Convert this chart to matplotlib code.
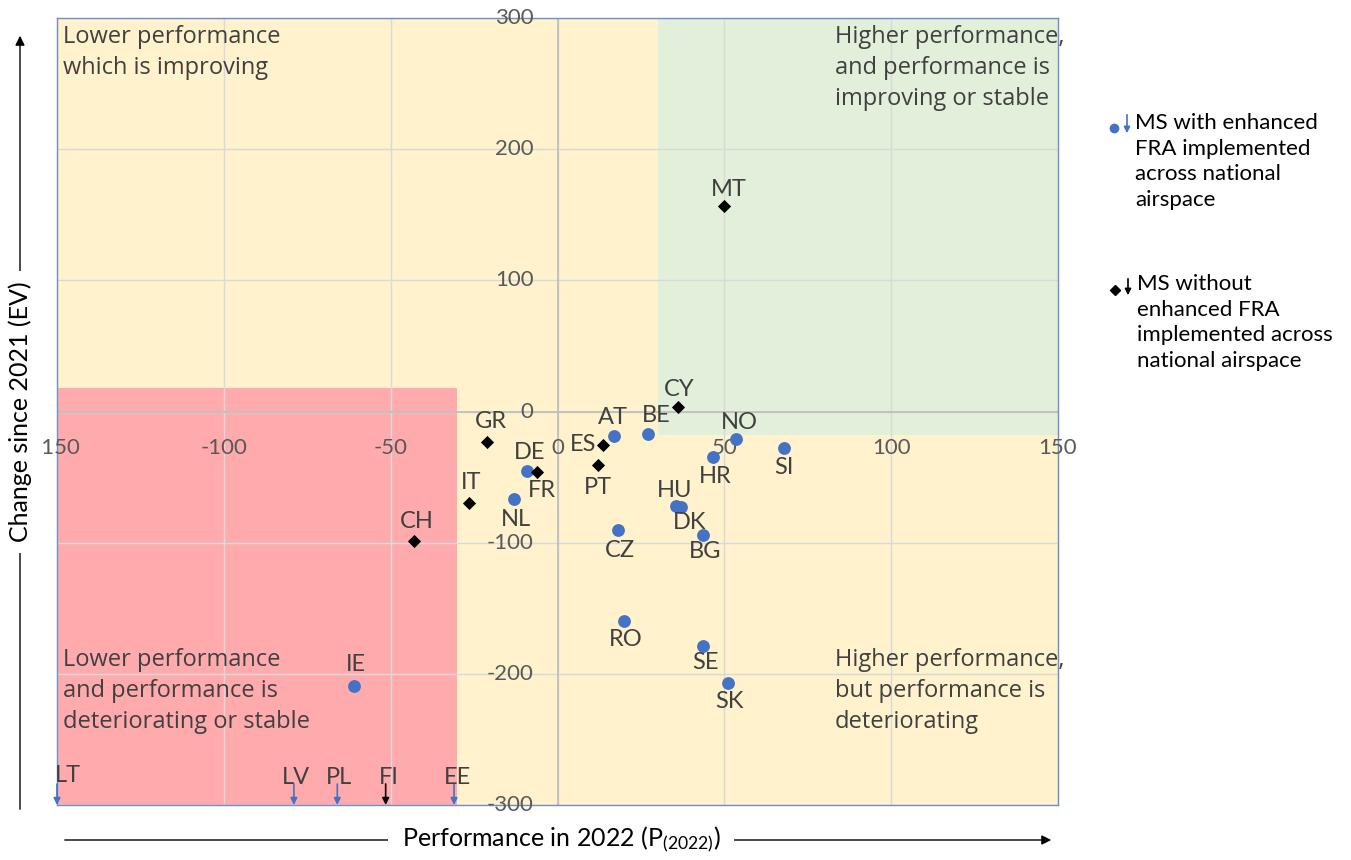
import matplotlib.pyplot as plt
from matplotlib.patches import Rectangle, FancyArrowPatch
from matplotlib.lines import Line2D

plt.rcParams['font.family'] = ['Lato', 'DejaVu Sans']
plt.rcParams['mathtext.default'] = 'regular'

# member states with enhanced FRA (blue circles)
blue_codes = ["AT", "BE", "NO", "SI", "HR", "DE", "NL", "HU", "DK", "CZ", "BG", "RO", "SE", "SK", "IE"]
blue_x = [17, 27, 53.5, 68, 46.5, -9, -13, 35.5, 37, 18, 43.5, 20, 43.5, 51, -61]
blue_y = [-19, -17, -21, -28, -35, -45, -67, -72, -73, -90, -94, -160, -179, -207, -209]

# member states without enhanced FRA (black diamonds)
black_codes = ["MT", "CY", "GR", "ES", "FR", "PT", "IT", "CH"]
black_x = [50, 36, -21, 13.5, -6, 12, -26.5, -43]
black_y = [157, 3.5, -23, -25.5, -46, -41, -70, -99]

# off-scale (change below -300), shown as arrows on the bottom edge
off_blue_codes = ["LT", "LV", "PL", "EE"]
off_blue_x = [-150, -79, -66, -31]
off_black_codes = ["FI"]
off_black_x = [-51.5]

# quadrant thresholds
x_low, x_high = -30, 30
y_low, y_high = -18, 18

# label offsets in pixels (dx, dy)
label_off = {
    "MT": (4, 16), "CY": (2, 17), "AT": (-1, 19), "BE": (9, 18), "NO": (3, 17),
    "SI": (0, -19), "HR": (3, -19), "ES": (-19, 0), "PT": (0, -22), "GR": (4, 20),
    "DE": (2, 18), "FR": (4, -19), "IT": (2, 21), "NL": (2, -20), "CH": (3, 20),
    "HU": (-1, 15), "DK": (9, -15), "CZ": (2, -21), "BG": (2, -17), "RO": (2, -18),
    "SE": (3, -16), "SK": (2, -18), "IE": (2, 21),
    "LT": (11, 30), "LV": (2, 27), "PL": (2, 28), "FI": (3, 28), "EE": (3, 28),
}

BLUE = "#4472C4"
LABEL = "#404040"
W, H = 1351, 860


def px(x, y):
    return (x / W, 1 - y / H)


fig = plt.figure(figsize=(13.51, 8.6), dpi=100)
ax = fig.add_axes([57 / W, 55 / H, 1001 / W, 787 / H])
ax.set_xlim(-150, 150)
ax.set_ylim(-300, 300)
ax.set_facecolor("#FFF2CC")

ax.add_patch(Rectangle((-150, -300), x_low + 150, y_high + 300,
                       facecolor="#FFABAE", edgecolor="none", zorder=0.2))
ax.add_patch(Rectangle((x_high, y_low), 150 - x_high, 300 - y_low,
                       facecolor="#E2EFDA", edgecolor="none", zorder=0.2))

ax.set_xticks(range(-150, 151, 50))
ax.set_yticks(range(-300, 301, 100))
ax.tick_params(length=0, labelbottom=False, labelleft=False)
ax.grid(color="#D9D9D9", lw=1)
ax.set_axisbelow(True)
ax.axhline(0, color="#BFBFBF", lw=1.3, zorder=0.6)
ax.axvline(0, color="#BFBFBF", lw=1.3, zorder=0.6)
for s in ax.spines.values():
    s.set_color("#6F8FC9")
    s.set_linewidth(1)

# tick labels drawn next to the crossing axes
for v in ax.get_xticks():
    ax.annotate(f"{int(v)}", (v, 0), xytext=(0, -36), textcoords="offset pixels",
                ha="center", va="center", fontsize=16, color="#595959",
                annotation_clip=False)
for v in ax.get_yticks():
    ax.annotate(f"{int(v)}", (0, v), xytext=(-24, 0), textcoords="offset pixels",
                ha="right", va="center", fontsize=16, color="#595959",
                annotation_clip=False)

# points
ax.scatter(blue_x, blue_y, s=85, color=BLUE, zorder=3, linewidths=0)
ax.scatter(black_x, black_y, s=45, marker="D", color="black", zorder=3, linewidths=0)

for code, x, y in zip(blue_codes + black_codes, blue_x + black_x, blue_y + black_y):
    ax.annotate(code, (x, y), xytext=label_off[code], textcoords="offset pixels",
                ha="center", va="center", fontsize=17, color=LABEL, zorder=4)

for codes, xs, col in [(off_blue_codes, off_blue_x, BLUE), (off_black_codes, off_black_x, "black")]:
    for code, x in zip(codes, xs):
        ax.annotate("", xy=(x, -300), xycoords="data",
                    xytext=(0, 21), textcoords="offset pixels",
                    arrowprops=dict(arrowstyle="-|>", color=col, lw=1.2, mutation_scale=10,
                                    shrinkA=0, shrinkB=0),
                    annotation_clip=False, zorder=4)
        ax.annotate(code, (x, -300), xytext=label_off[code], textcoords="offset pixels",
                    ha="center", va="center", fontsize=17, color=LABEL, zorder=4,
                    annotation_clip=False)

# quadrant captions
qfont = dict(fontsize=17, color=LABEL, family=["Open Sans", "DejaVu Sans"],
             linespacing=1.4, va="top", ha="left", zorder=5)
fig.text(*px(63, 25), "Lower performance\nwhich is improving", **qfont)
fig.text(*px(835, 25), "Higher performance,\nand performance is\nimproving or stable", **qfont)
fig.text(*px(63, 648), "Lower performance\nand performance is\ndeteriorating or stable", **qfont)
fig.text(*px(835, 648), "Higher performance,\nbut performance is\ndeteriorating", **qfont)

# axis titles with long arrows
fig.add_artist(FancyArrowPatch(px(20, 812), px(20, 33), transform=fig.transFigure,
                               arrowstyle="-|>", mutation_scale=14, color="black", lw=1))
fig.text(*px(20, 412), "Change since 2021 (EV)", rotation=90, ha="center", va="center",
         fontsize=18, color="black",
         bbox=dict(facecolor="white", edgecolor="none", pad=8))
fig.add_artist(FancyArrowPatch(px(62, 840), px(1054, 840), transform=fig.transFigure,
                               arrowstyle="-|>", mutation_scale=14, color="black", lw=1))
fig.text(*px(561, 840), "Performance in 2022 (P$_{(2022)}$)", ha="center", va="center",
         fontsize=18, color="black",
         bbox=dict(facecolor="white", edgecolor="none", pad=10))

# legend
fig.add_artist(Line2D([1114 / W], [1 - 128 / H], marker="o", markersize=6, color=BLUE,
                      lw=0, transform=fig.transFigure))
fig.add_artist(FancyArrowPatch(px(1127, 112), px(1127, 136), transform=fig.transFigure,
                               arrowstyle="-|>", mutation_scale=9, color=BLUE, lw=1.2))
fig.text(*px(1135, 113), "MS with enhanced\nFRA implemented\nacross national\nairspace",
         ha="left", va="top", fontsize=16, linespacing=1.35)
fig.add_artist(Line2D([1115 / W], [1 - 290 / H], marker="D", markersize=5, color="black",
                      lw=0, transform=fig.transFigure))
fig.add_artist(FancyArrowPatch(px(1128, 276), px(1128, 298), transform=fig.transFigure,
                               arrowstyle="-|>", mutation_scale=9, color="black", lw=1.2))
fig.text(*px(1137, 274), "MS without\nenhanced FRA\nimplemented across\nnational airspace",
         ha="left", va="top", fontsize=16, linespacing=1.35)

fig.savefig("out.png", dpi=100)
